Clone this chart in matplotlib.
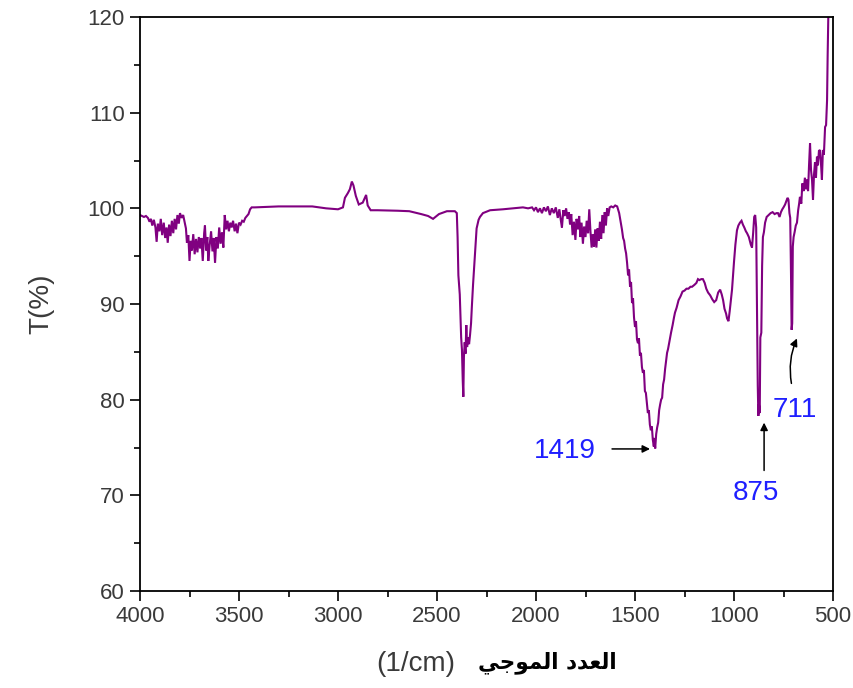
import matplotlib
matplotlib.use("Agg")
import matplotlib.pyplot as plt
from matplotlib.ticker import MultipleLocator

# ---------------- data ----------------
wavenumber = [
    4000, 3990, 3980, 3970, 3960, 3952, 3945, 3938, 3930, 3922, 3916, 3910, 3902, 3895, 3888, 3880,
    3873, 3866, 3860, 3853, 3846, 3839, 3832, 3825, 3818, 3811, 3804, 3798, 3790, 3782, 3775, 3768,
    3763, 3756, 3750, 3744, 3738, 3731, 3724, 3717, 3710, 3703, 3696, 3690, 3683, 3676, 3672, 3666,
    3660, 3655, 3648, 3641, 3634, 3628, 3621, 3614, 3607, 3600, 3593, 3586, 3579, 3572, 3565, 3558,
    3551, 3544, 3537, 3530, 3522, 3515, 3508, 3500, 3492, 3484, 3476, 3468, 3460, 3452, 3444, 3436,
    3420, 3300, 3130, 3060, 3000, 2975, 2965, 2950, 2940, 2930, 2922, 2910, 2895, 2875, 2858, 2850,
    2835, 2800, 2700, 2640, 2580, 2545, 2520, 2490, 2450, 2410,
    2400, 2396, 2392, 2385, 2378, 2374, 2370, 2367, 2364, 2360, 2356, 2352, 2348, 2343, 2338, 2333,
    2328, 2324, 2318, 2312, 2308, 2300, 2290, 2283, 2268, 2232, 2167,
    2066, 2040, 2020, 2010, 2000, 1990, 1980, 1970, 1960, 1950, 1940, 1930, 1920, 1910, 1900, 1890,
    1882, 1875, 1869, 1862, 1855, 1848, 1841, 1834, 1828, 1822, 1815, 1808, 1801, 1795, 1788, 1782,
    1776, 1770, 1763, 1757, 1750, 1744, 1737, 1731, 1725, 1719, 1713, 1707, 1701, 1695, 1689, 1683,
    1677, 1671, 1665, 1659, 1653, 1647, 1641, 1635, 1628, 1620, 1610, 1600, 1590, 1580, 1572, 1566,
    1560, 1555, 1550, 1545,
    1540, 1535, 1530, 1525, 1520, 1515, 1510, 1505, 1500, 1495, 1490, 1485, 1480, 1475, 1470, 1465,
    1460, 1455, 1450, 1445, 1440, 1435, 1430, 1425, 1420, 1415, 1410, 1405, 1402, 1398, 1393, 1388,
    1383, 1378, 1373, 1368, 1363, 1358, 1353, 1348, 1343, 1338, 1333, 1325, 1318, 1310, 1303, 1298,
    1290, 1280, 1270, 1260, 1250, 1240, 1230, 1220, 1212, 1200, 1190, 1182,
    1175, 1165, 1157, 1148, 1140, 1131, 1120, 1110, 1100, 1090, 1080, 1070, 1062, 1055, 1048, 1040,
    1035, 1028, 1022, 1015, 1010, 1005, 1000, 993, 985, 978, 970, 962, 955, 948, 940, 934,
    925, 915, 909, 903, 898, 893, 888, 884, 880, 877, 874, 870, 867, 862, 858, 854,
    849, 843, 835, 825, 815, 805, 795,
    785, 778, 770, 763, 756, 750, 742, 735, 729, 725, 720, 716, 712, 709, 706, 703,
    699, 694, 688, 682, 676, 671,
    667, 660, 655, 648, 642, 636, 631, 626, 621, 616, 611, 606, 601, 596, 591, 586,
    581, 576, 571, 566, 561, 556, 551, 546, 540, 535, 530, 527, 524, 521,
]
transmittance = [
    99.3, 99.2, 99.1, 99.2, 99.0, 98.6, 98.9, 98.2, 98.8, 98.0, 96.5, 98.4, 97.6, 98.9, 97.2, 98.5,
    96.9, 98.0, 96.4, 98.3, 97.1, 98.7, 97.4, 98.9, 97.8, 99.3, 98.4, 99.5, 99.0, 99.3, 98.6, 97.9,
    96.4, 97.2, 94.5, 96.6, 95.6, 97.3, 95.2, 96.8, 95.4, 97.0, 95.8, 96.9, 94.5, 97.4, 98.2, 95.6,
    97.0, 94.5, 96.2, 97.6, 95.5, 96.9, 94.3, 97.0, 95.8, 98.0, 96.3, 97.5, 95.9, 99.3, 97.8, 98.7,
    97.6, 98.5, 98.0, 98.7, 97.6, 98.4, 97.4, 98.5, 98.3, 98.7, 98.6, 99.0, 99.2, 99.4, 99.9, 100.1,
    100.1, 100.2, 100.2, 100.0, 99.9, 100.1, 101.1, 101.6, 102.0, 102.8, 102.4, 101.3, 100.4, 100.6, 101.4, 100.3,
    99.8, 99.8, 99.75, 99.7, 99.4, 99.2, 98.9, 99.4, 99.7, 99.7,
    99.5, 97.0, 93.0, 91.0, 86.5, 85.2, 82.0, 80.3, 84.5, 86.0, 84.8, 87.8, 85.5, 86.5, 85.8, 86.8,
    88.0, 89.7, 92.0, 94.0, 95.3, 97.9, 98.8, 99.1, 99.5, 99.8, 99.9,
    100.1, 100.0, 100.1, 99.8, 100.1, 99.6, 100.0, 99.5, 100.1, 99.7, 100.2, 99.3, 100.0, 99.5, 100.1, 99.0,
    99.9, 98.8, 98.0, 99.8, 99.2, 100.0, 98.9, 99.6, 98.3, 99.4, 97.2, 98.6, 96.7, 98.9, 97.8, 99.2,
    97.0, 98.5, 96.3, 98.1, 97.0, 98.7, 97.4, 99.9, 97.6, 95.9, 97.3, 96.0, 97.8, 95.9, 97.9, 96.6,
    98.6, 96.8, 99.3, 97.4, 99.6, 98.2, 100.0, 99.2, 100.1, 100.2, 100.1, 100.3, 100.2, 99.5, 98.5, 97.8,
    96.9, 96.6, 95.8, 95.3,
    94.3, 93.0, 93.6, 91.8, 92.3, 90.1, 90.6, 88.6, 87.6, 88.2, 86.3, 85.9, 86.4, 84.6, 84.9, 83.4,
    82.8, 83.1, 80.9, 80.7, 79.6, 78.6, 78.9, 77.4, 76.8, 77.2, 75.8, 75.1, 76.0, 74.9, 76.4, 77.1,
    77.6, 78.9, 79.5, 80.0, 80.2, 81.6, 82.1, 83.2, 84.1, 84.9, 85.3, 86.2, 87.0, 87.8, 88.6, 89.1,
    89.6, 90.4, 90.8, 91.3, 91.4, 91.6, 91.6, 91.8, 91.8, 92.0, 92.2, 92.6,
    92.5, 92.6, 92.6, 92.2, 91.6, 91.2, 90.9, 90.5, 90.2, 90.4, 91.2, 91.5, 91.0, 90.4, 89.5, 89.0,
    88.5, 88.2, 89.2, 90.5, 91.5, 93.0, 94.4, 96.2, 97.7, 98.2, 98.5, 98.7, 98.3, 98.0, 97.6, 97.4,
    97.0, 96.2, 95.9, 97.5, 99.1, 99.3, 98.0, 90.0, 81.5, 78.3, 79.5, 78.6, 86.5, 87.0, 94.0, 97.0,
    97.5, 98.5, 99.1, 99.3, 99.5, 99.6, 99.4,
    99.5, 99.5, 99.1, 99.6, 99.9, 100.1, 100.4, 100.8, 101.1, 100.9, 99.5, 99.0, 93.0, 87.3, 88.0, 96.0,
    97.0, 97.5, 98.2, 98.5, 99.8, 100.5,
    101.2, 100.5, 102.6, 101.8, 103.2, 102.0, 103.0, 101.8, 104.5, 106.8, 104.0, 103.0, 100.9, 103.5, 104.8, 103.2,
    105.4, 104.5, 106.0, 106.1, 104.8, 103.0, 106.1, 105.6, 108.5, 108.7, 111.3, 116.0, 119.7, 122.0,
]

x_ticks = [4000, 3500, 3000, 2500, 2000, 1500, 1000, 500]
y_ticks = [60, 70, 80, 90, 100, 110, 120]

peak_labels = ["1419", "875", "711"]
label_pos_x = [1854, 889, 692]
label_pos_y = [74.6, 70.25, 78.9]
arrow_start_x = [1616, 848, 710]
arrow_start_y = [74.85, 72.6, 81.7]
arrow_end_x = [1424, 848, 682]
arrow_end_y = [74.85, 77.6, 86.4]

# ---------------- figure ----------------
plt.rcParams['font.family'] = ['Liberation Sans', 'DejaVu Sans']

fig = plt.figure(figsize=(8.54, 6.88), dpi=100)
ax = fig.add_axes([140 / 854, 97 / 688, 693 / 854, 574 / 688])

ax.plot(wavenumber, transmittance, color='#800080', lw=1.5, solid_joinstyle='miter')

ax.set_xlim(4000, 500)
ax.set_ylim(60, 120)
ax.set_xticks(x_ticks)
ax.set_yticks(y_ticks)
ax.xaxis.set_minor_locator(MultipleLocator(250))
ax.yaxis.set_minor_locator(MultipleLocator(5))
ax.tick_params(which='major', direction='out', length=7, width=1.2, labelsize=16,
               labelcolor='#3a3a3a', top=False, right=False, pad=4)
ax.tick_params(which='minor', direction='out', length=4, width=1.2, top=False, right=False)
for s in ax.spines.values():
    s.set_linewidth(1.3)

ax.set_ylabel("T(%)", fontsize=20, color='#3a3a3a', labelpad=24)

# x label: Latin part + Arabic part (presentation forms, visual order)
fig.text(455 / 854, 1 - 664 / 688, "(1/cm)", fontsize=20, color='#3a3a3a',
         ha='right', va='center')
fig.text(478 / 854, 1 - 663 / 688, "\ufef2\ufe9f\ufeee\ufee4\ufedf\ufe8d \ufea9\ufeaa\ufecc\ufedf\ufe8d",
         fontsize=15.5, fontweight='bold', color='black', family=['DejaVu Sans'],
         ha='left', va='center')

for lab, tx, ty, sx, sy, ex, ey in zip(peak_labels, label_pos_x, label_pos_y,
                                       arrow_start_x, arrow_start_y, arrow_end_x, arrow_end_y):
    ax.text(tx, ty, lab, fontsize=20, color='#1f1fff', ha='center', va='center')
    rad = -0.15 if lab == "711" else 0.0
    ax.annotate("", xy=(ex, ey), xytext=(sx, sy),
                arrowprops=dict(arrowstyle='-|>', color='black', lw=1.1,
                                mutation_scale=11, shrinkA=0, shrinkB=0,
                                connectionstyle=f"arc3,rad={rad}"))

fig.savefig("out.png", dpi=100)
